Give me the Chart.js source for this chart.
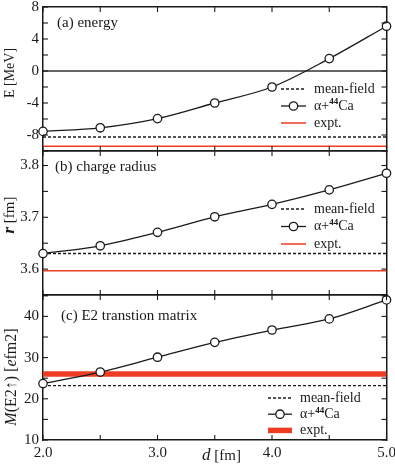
<!DOCTYPE html>
<html lang="en">
<head>
<meta charset="UTF-8">
<title>alpha + 44Ca</title>
<script src="https://cdn.jsdelivr.net/npm/chart.js"></script>
<style>
  body { margin: 0; background: #fff; }
  #wrap { position: relative; width: 395px; height: 467px; }
  canvas { position: absolute; left: 0; }
</style>
</head>
<body>
<div id="wrap">
  <canvas id="panelA" width="395" height="160" style="top:0px"></canvas>
  <canvas id="panelB" width="395" height="165" style="top:140px"></canvas>
  <canvas id="panelC" width="395" height="182" style="top:285px"></canvas>
</div>
<script>
// distance d [fm]
const dValues = [2.0, 2.5, 3.0, 3.5, 4.0, 4.5, 5.0];
// alpha + 44Ca results
const energy = [-7.55, -7.1, -5.95, -4.0, -2.0, 1.55, 5.6];
const radius = [3.630, 3.645, 3.671, 3.701, 3.725, 3.753, 3.785];
const e2 = [23.7, 26.5, 30.1, 33.7, 36.7, 39.4, 44.0];
// reference lines: energy, radius, E2
const meanField = [-8.25, 3.630, 23.2];
const expt = [-9.4, 3.597, 26.0];
const legendNames = ['mean-field', 'α+44Ca', 'expt.'];
const xTickLabels = ['2.0', '3.0', '4.0', '5.0'];

const SERIF = '"Liberation Serif", "DejaVu Serif", serif';
const INK = '#1a1a1a';
const RED = '#ee3d22';
const L = 43, R = 386.5;

const pts = arr => dValues.map((d, i) => ({ x: d, y: arr[i] }));
const flat = v => [{ x: dValues[0], y: v }, { x: dValues[dValues.length - 1], y: v }];

// draw text pieces one after another, each with its own font
function drawRuns(ctx, runs, x, y) {
  let w = 0;
  runs.forEach(r => { ctx.font = r.font; w += ctx.measureText(r.t).width; });
  let cx = x;
  runs.forEach(r => {
    ctx.font = r.font;
    ctx.fillText(r.t, cx, y + (r.dy || 0));
    cx += ctx.measureText(r.t).width;
  });
  return w;
}
function runsWidth(ctx, runs) {
  let w = 0;
  runs.forEach(r => { ctx.font = r.font; w += ctx.measureText(r.t).width; });
  return w;
}

const deco = {
  id: 'deco',
  afterDraw(chart, args, o) {
    const ctx = chart.ctx, a = chart.chartArea;
    ctx.save();
    // inward tick marks
    ctx.strokeStyle = INK;
    ctx.lineWidth = 1.1;
    Object.values(chart.scales).forEach(s => {
      s.ticks.forEach(t => {
        const p = s.getPixelForValue(t.value);
        ctx.beginPath();
        if (s.position === 'left') { ctx.moveTo(a.left, p); ctx.lineTo(a.left + 5, p); }
        if (s.position === 'right') { ctx.moveTo(a.right, p); ctx.lineTo(a.right - 5, p); }
        if (s.position === 'bottom') { ctx.moveTo(p, a.bottom); ctx.lineTo(p, a.bottom - 5); }
        if (s.position === 'top') { ctx.moveTo(p, a.top); ctx.lineTo(p, a.top + 5); }
        ctx.stroke();
      });
    });

    ctx.fillStyle = INK;
    ctx.textBaseline = 'middle';
    ctx.textAlign = 'left';

    // panel title
    ctx.font = '15px ' + SERIF;
    ctx.fillText(o.title, o.titleX, a.top + o.titleY);

    // legend
    const ds = chart.data.datasets;
    const lg = o.legend;
    [1, 0, 2].forEach((k, row) => {
      const d = ds[k];
      const y = a.top + lg.y + row * lg.dy;
      ctx.save();
      ctx.strokeStyle = d.borderColor;
      ctx.lineWidth = d.borderWidth;
      ctx.setLineDash(d.borderDash || []);
      ctx.beginPath();
      ctx.moveTo(lg.x1, y);
      ctx.lineTo(lg.x2, y);
      ctx.stroke();
      ctx.restore();
      if (k === 0) {
        ctx.beginPath();
        ctx.arc((lg.x1 + lg.x2) / 2, y, d.pointRadius, 0, Math.PI * 2);
        ctx.fillStyle = '#fff';
        ctx.fill();
        ctx.lineWidth = d.pointBorderWidth;
        ctx.strokeStyle = INK;
        ctx.stroke();
        ctx.fillStyle = INK;
        drawRuns(ctx, [
          { t: 'α+', font: '14px ' + SERIF },
          { t: legendNames[1].slice(2, 4), font: 'bold 9px ' + SERIF, dy: -4 },
          { t: legendNames[1].slice(4), font: '14px ' + SERIF }
        ], lg.tx, y);
      } else {
        ctx.font = '14px ' + SERIF;
        ctx.fillText(d.label, lg.tx, y);
      }
    });

    // rotated y-axis title
    ctx.save();
    ctx.translate(o.yTitleX, a.top + o.yTitleY);
    ctx.rotate(-Math.PI / 2);
    const w = runsWidth(ctx, o.yTitle);
    drawRuns(ctx, o.yTitle, -w / 2, 0);
    ctx.restore();

    // x-axis title (bottom panel only)
    if (o.xTitle) {
      drawRuns(ctx, o.xTitle, o.xTitleX, o.xTitleY);
    }
    ctx.restore();
  }
};

function makePanel(id, p) {
  const datasets = [
    {
      label: legendNames[1], data: pts(p.values), borderColor: INK, borderWidth: 1.3,
      pointRadius: 4.2, pointBackgroundColor: '#fff', pointBorderColor: INK,
      pointBorderWidth: 1.3, cubicInterpolationMode: 'monotone', clip: false
    },
    {
      label: legendNames[0], data: flat(p.mf), borderColor: INK, borderWidth: 1.4,
      borderDash: [3, 2], pointRadius: 0
    },
    {
      label: legendNames[2], data: flat(p.ex), borderColor: RED, borderWidth: p.exW,
      pointRadius: 0
    }
  ];
  if (p.zero) {
    datasets.push({ label: 'zero', data: flat(0), borderColor: '#333', borderWidth: 1.5, pointRadius: 0 });
  }
  const border = { display: true, color: INK, width: 1.5 };
  const noGrid = { display: false, drawTicks: false };
  const zeroPad = s => { s.paddingLeft = 0; s.paddingRight = 0; s.paddingTop = 0; s.paddingBottom = 0; };
  return new Chart(document.getElementById(id), {
    type: 'line',
    data: { datasets },
    options: {
      responsive: false,
      animation: false,
      devicePixelRatio: 1,
      layout: { padding: 0 },
      plugins: {
        legend: { display: false },
        tooltip: { enabled: false },
        deco: p.deco
      },
      scales: {
        x: {
          type: 'linear', position: 'bottom', min: 2, max: 5, border, grid: noGrid,
          ticks: {
            display: !!p.xLabels, stepSize: 0.5, autoSkip: false, maxRotation: 0, padding: 4,
            color: INK, font: { family: SERIF, size: 15 },
            callback: v => xTickLabels.includes(v.toFixed(1)) && Number.isInteger(v) ? v.toFixed(1) : ''
          },
          afterFit: s => { s.height = p.bottomH; zeroPad(s); }
        },
        x2: {
          type: 'linear', position: 'top', min: 2, max: 5, border, grid: noGrid,
          ticks: { display: false, stepSize: 0.5 },
          afterFit: s => { s.height = p.topH; zeroPad(s); }
        },
        y: {
          type: 'linear', position: 'left', min: p.min, max: p.max, border, grid: noGrid,
          ticks: {
            stepSize: p.step, autoSkip: false, padding: 4, color: INK,
            includeBounds: false, font: { family: SERIF, size: 15 },
            callback: p.label
          },
          afterFit: s => { s.width = L; zeroPad(s); }
        },
        y2: {
          type: 'linear', position: 'right', min: p.min, max: p.max, border, grid: noGrid,
          ticks: { display: false, stepSize: p.step, includeBounds: false },
          afterFit: s => { s.width = 395 - R; zeroPad(s); }
        }
      }
    },
    plugins: [deco]
  });
}

const italic = '14px ' + SERIF;

makePanel('panelA', {
  values: energy, mf: meanField[0], ex: expt[0], exW: 1.5, zero: true,
  min: -10, max: 8, step: 2, topH: 7, bottomH: 9,
  label: v => (v % 4 === 0 ? String(v) : ''),
  deco: {
    title: '(a) energy', titleX: 57, titleY: 16,
    legend: { x1: 281, x2: 306, tx: 314, y: 82, dy: 17 },
    yTitleX: 10, yTitleY: 66,
    yTitle: [{ t: 'E [MeV]', font: '14px ' + SERIF }]
  }
});

makePanel('panelB', {
  values: radius, mf: meanField[1], ex: expt[1], exW: 1.5,
  min: 3.55, max: 3.828, step: 0.05, topH: 11, bottomH: 10,
  label: v => (Math.abs(v * 10 - Math.round(v * 10)) < 1e-6 ? v.toFixed(1) : ''),
  deco: {
    title: '(b) charge radius', titleX: 55, titleY: 16,
    legend: { x1: 281, x2: 306, tx: 314, y: 58, dy: 17.5 },
    yTitleX: 10, yTitleY: 64,
    yTitle: [
      { t: 'r', font: 'italic bold 17px ' + SERIF },
      { t: ' [fm]', font: '15px ' + SERIF }
    ]
  }
});

makePanel('panelC', {
  values: e2, mf: meanField[2], ex: expt[2], exW: 5.5, xLabels: true,
  min: 10, max: 45.2, step: 5, topH: 10, bottomH: 27,
  label: v => (v % 10 === 0 ? String(v) : ''),
  deco: {
    title: '(c) E2 transtion matrix', titleX: 61, titleY: 21,
    legend: { x1: 268, x2: 292, tx: 300, y: 103, dy: 16.2 },
    yTitleX: 12, yTitleY: 82,
    yTitle: [
      { t: 'M', font: 'italic 16px ' + SERIF },
      { t: '(E2↑) [', font: '16px ' + SERIF },
      { t: 'e', font: 'italic 16px ' + SERIF },
      { t: 'fm2]', font: '16px ' + SERIF }
    ],
    xTitle: [
      { t: 'd', font: 'italic 17px ' + SERIF },
      { t: ' [fm]', font: '15px ' + SERIF }
    ],
    xTitleX: 202, xTitleY: 171
  }
});
</script>
</body>
</html>
